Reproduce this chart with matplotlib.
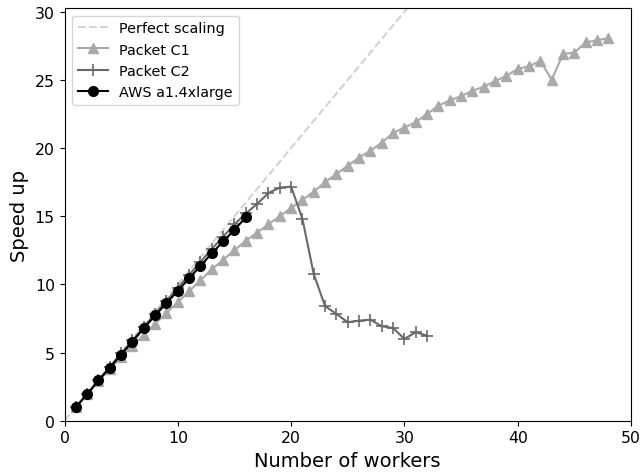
import numpy as np
import matplotlib
matplotlib.use("Agg")
import matplotlib.pyplot as plt

# number of workers
workers_c1 = list(range(1, 49))
workers_c2 = list(range(1, 33))
workers_aws = list(range(1, 17))

speedup_c1 = [1.0, 1.95, 2.9, 3.8, 4.7, 5.5, 6.3, 7.1, 7.9, 8.7,
              9.5, 10.3, 11.1, 11.8, 12.5, 13.2, 13.8, 14.4, 15.0, 15.6,
              16.2, 16.8, 17.5, 18.1, 18.7, 19.3, 19.8, 20.4, 21.1, 21.5,
              21.9, 22.5, 23.1, 23.5, 23.8, 24.2, 24.5, 24.9, 25.3, 25.8,
              26.0, 26.4, 25.0, 26.9, 27.0, 27.75, 27.9, 28.07]
speedup_c2 = [1.0, 1.98, 2.97, 3.95, 4.93, 5.9, 6.88, 7.85, 8.8, 9.75,
              10.7, 11.65, 12.6, 13.5, 14.4, 15.2, 15.9, 16.7, 17.1, 17.17,
              14.8, 10.75, 8.4, 7.83, 7.22, 7.34, 7.41, 6.93, 6.8, 6.0,
              6.49, 6.24]
speedup_aws = [1.0, 1.94, 2.95, 3.88, 4.85, 5.8, 6.78, 7.72, 8.63, 9.53,
               10.44, 11.36, 12.27, 13.15, 14.0, 14.92]

fig = plt.figure(figsize=(6.41, 4.77), dpi=100)
ax = fig.add_axes([64.5/641, 1-421.7/477, (631-64.5)/641, (421.7-9.3)/477])

perfect = np.array([0, 50])
ax.plot(perfect, perfect, '--', color='lightgray', lw=1.5, label='Perfect scaling')
ax.plot(workers_c1, speedup_c1, color='darkgray', marker='^', ms=7.5, lw=1.5, label='Packet C1')
ax.plot(workers_c2, speedup_c2, color='dimgray', marker='+', ms=9, mew=1.2, lw=1.5, label='Packet C2')
ax.plot(workers_aws, speedup_aws, color='black', marker='o', ms=7, lw=1.5, label='AWS a1.4xlarge')

ax.set_xlim(0, 50)
ax.set_ylim(0, 30.25)
ax.set_yticks([0, 5, 10, 15, 20, 25, 30])
ax.set_xlabel('Number of workers', fontsize=14)
ax.set_ylabel('Speed up', fontsize=14)
ax.tick_params(labelsize=11.3)
ax.legend(loc='upper left', fontsize=10.4, handlelength=2.1)

fig.savefig('out.png', dpi=100)
